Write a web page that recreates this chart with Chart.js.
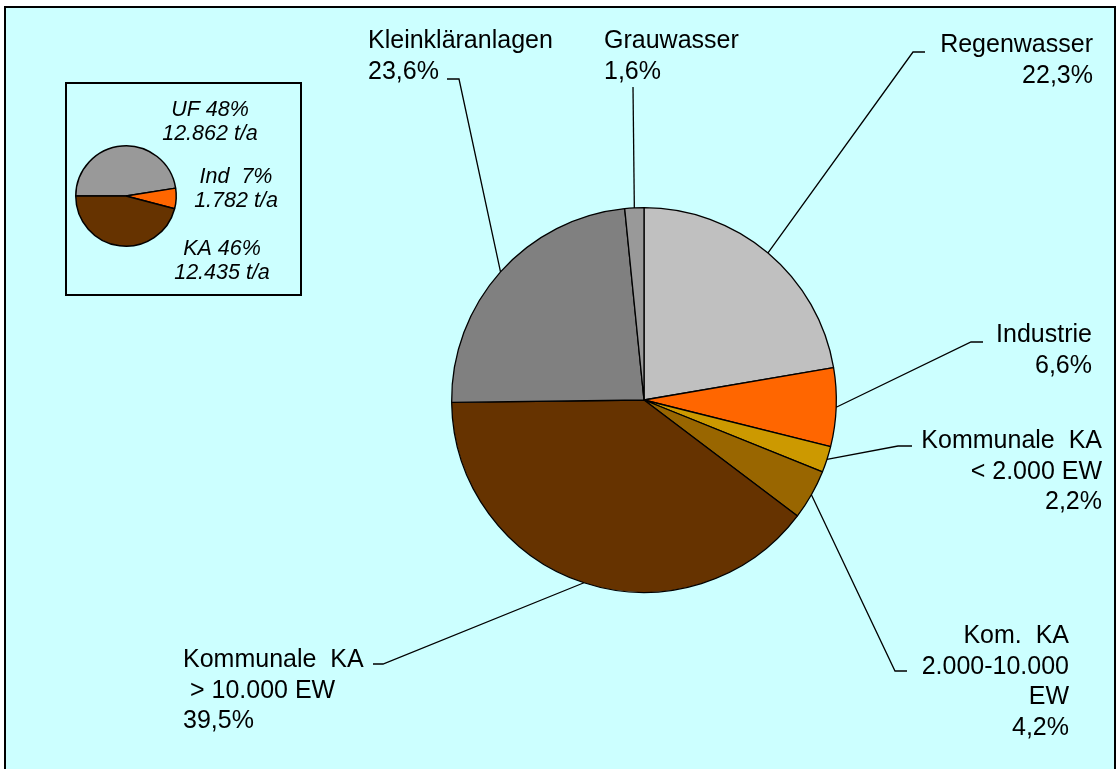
<!DOCTYPE html>
<html>
<head>
<meta charset="utf-8">
<script src="https://cdn.jsdelivr.net/npm/chart.js@4"></script>
<style>
  body { margin: 0; background: #ffffff; }
  #wrap { position: relative; width: 1118px; height: 769px; }
  canvas { position: absolute; left: 0; top: 0; }
</style>
</head>
<body>
<div id="wrap">
  <canvas id="mainChart" width="1118" height="769"></canvas>
  <canvas id="insetChart" width="1118" height="769"></canvas>
</div>
<script>
// main pie: shares in percent, clockwise from 12 o'clock
const sources = ['Regenwasser', 'Industrie', 'Kommunale KA < 2.000 EW', 'Kom. KA 2.000-10.000 EW',
                 'Kommunale KA > 10.000 EW', 'Kleinkläranlagen', 'Grauwasser'];
const shares = [22.3, 6.6, 2.2, 4.2, 39.5, 23.6, 1.6];
const shareLabels = [
    ['Regenwasser', '22,3%'],
    ['Industrie', '6,6%'],
    ['Kommunale  KA', '< 2.000 EW', '2,2%'],
    ['Kom.  KA', '2.000-10.000', 'EW', '4,2%'],
    ['Kommunale  KA', ' > 10.000 EW', '39,5%'],
    ['Kleinkläranlagen', '23,6%'],
    ['Grauwasser', '1,6%']
];
const sliceColors = ['#c0c0c0', '#ff6600', '#cc9900', '#996600', '#663300', '#808080', '#999999'];

// inset pie: tonnes per year
const groups = ['UF', 'Ind', 'KA'];
const tonnes = [12862, 1782, 12435];
const groupLabels = [['UF 48%', '12.862 t/a'], ['Ind  7%', '1.782 t/a'], ['KA 46%', '12.435 t/a']];
const groupColors = ['#999999', '#ff6600', '#663300'];

// where each label sits (first baseline), and the elbow of its leader line
const labelLayout = [
    { x: 1093, y: 52, align: 'right', elbow: [913, 52], end: [925, 52] },
    { x: 1092, y: 342, align: 'right', elbow: [971, 342], end: [983, 342] },
    { x: 1102, y: 448, align: 'right', elbow: [898, 446], end: [912, 446] },
    { x: 1069, y: 643, align: 'right', elbow: [895, 671], end: [907, 671] },
    { x: 183, y: 667, align: 'left', elbow: [383, 664], end: [373, 664] },
    { x: 368, y: 48, align: 'left', elbow: [459, 79], end: [447, 79] },
    { x: 604, y: 48, align: 'left', elbow: [633, 87], end: null }
];
const insetLayout = [
    { x: 210, y: 116 },
    { x: 236, y: 183 },
    { x: 222, y: 255 }
];

const backgroundBox = {
    id: 'backgroundBox',
    beforeDraw(chart) {
        const c = chart.ctx;
        c.save();
        c.fillStyle = '#ccffff';
        c.fillRect(5, 7, 1110, 770);
        c.strokeStyle = '#000000';
        c.lineWidth = 2;
        c.strokeRect(5, 7, 1110, 770);
        c.strokeRect(66, 83, 235, 212);
        c.restore();
    }
};

const leaderLabels = {
    id: 'leaderLabels',
    afterDatasetsDraw(chart) {
        const c = chart.ctx;
        const arcs = chart.getDatasetMeta(0).data;
        c.save();
        c.strokeStyle = '#000000';
        c.lineWidth = 1.3;
        c.fillStyle = '#000000';
        c.font = '25px "Liberation Sans", Arial, sans-serif';
        arcs.forEach((arc, i) => {
            const p = arc.getProps(['x', 'y', 'startAngle', 'endAngle', 'outerRadius'], true);
            const mid = (p.startAngle + p.endAngle) / 2;
            const ax = p.x + p.outerRadius * Math.cos(mid);
            const ay = p.y + p.outerRadius * Math.sin(mid);
            const l = labelLayout[i];
            c.beginPath();
            c.moveTo(ax, ay);
            c.lineTo(l.elbow[0], l.elbow[1]);
            if (l.end) c.lineTo(l.end[0], l.end[1]);
            c.stroke();
            c.textAlign = l.align;
            c.textBaseline = 'alphabetic';
            shareLabels[i].forEach((t, k) => c.fillText(t, l.x, l.y + k * 30.5));
        });
        c.restore();
    }
};

const insetText = {
    id: 'insetText',
    afterDatasetsDraw(chart) {
        const c = chart.ctx;
        c.save();
        c.fillStyle = '#000000';
        c.font = 'italic 21.5px "Liberation Sans", Arial, sans-serif';
        c.textAlign = 'center';
        groupLabels.forEach((lines, i) => {
            lines.forEach((t, k) => c.fillText(t, insetLayout[i].x, insetLayout[i].y + k * 23.5));
        });
        c.restore();
    }
};

new Chart(document.getElementById('mainChart').getContext('2d'), {
    type: 'pie',
    data: {
        labels: sources,
        datasets: [{
            data: shares,
            backgroundColor: sliceColors,
            borderColor: '#000000',
            borderWidth: 1.3
        }]
    },
    options: {
        responsive: false,
        animation: false,
        rotation: 0,
        layout: { padding: { left: 451, right: 281, top: 207, bottom: 176 } },
        plugins: { legend: { display: false }, tooltip: { enabled: false } }
    },
    plugins: [backgroundBox, leaderLabels]
});

new Chart(document.getElementById('insetChart').getContext('2d'), {
    type: 'pie',
    data: {
        labels: groups,
        datasets: [{
            data: tonnes,
            backgroundColor: groupColors,
            borderColor: '#000000',
            borderWidth: 1.5
        }]
    },
    options: {
        responsive: false,
        animation: false,
        rotation: 270,
        layout: { padding: { left: 75, right: 941, top: 145, bottom: 522 } },
        plugins: { legend: { display: false }, tooltip: { enabled: false } }
    },
    plugins: [insetText]
});
</script>
</body>
</html>
